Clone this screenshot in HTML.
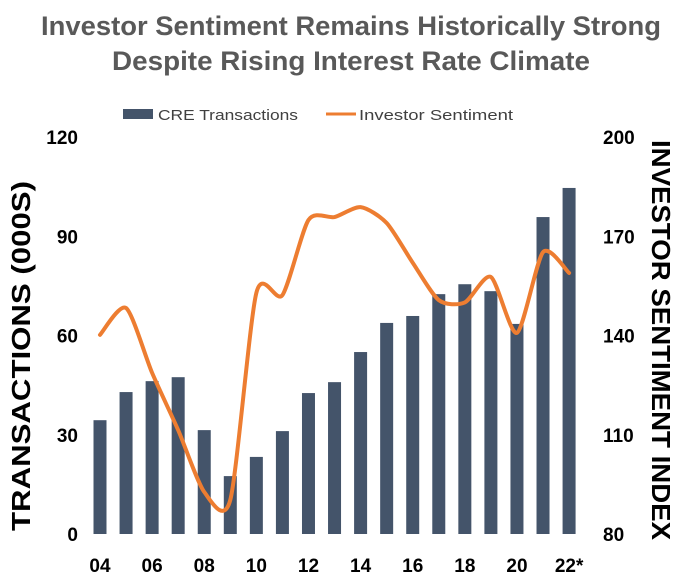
<!DOCTYPE html>
<html><head><meta charset="utf-8">
<style>
body{margin:0;background:#fff;}
svg{display:block;font-family:"Liberation Sans",sans-serif;}
</style></head><body>
<svg id="chart" width="680" height="586" viewBox="0 0 680 586">
<text x="351" y="35" text-anchor="middle" font-size="27" font-weight="bold" fill="#595959" textLength="620" lengthAdjust="spacingAndGlyphs">Investor Sentiment Remains Historically Strong</text>
<text x="351" y="70" text-anchor="middle" font-size="27" font-weight="bold" fill="#595959" textLength="478" lengthAdjust="spacingAndGlyphs">Despite Rising Interest Rate Climate</text>
<g>
<rect x="123" y="109" width="30" height="10" fill="#44546a"/>
<text x="158" y="120" font-size="15" fill="#404040" textLength="140" lengthAdjust="spacingAndGlyphs">CRE Transactions</text>
<line x1="326" y1="114" x2="356" y2="114" stroke="#ed7d31" stroke-width="3"/>
<text x="359" y="120" font-size="15" fill="#404040" textLength="154" lengthAdjust="spacingAndGlyphs">Investor Sentiment</text>
</g>
<text transform="translate(30,356) rotate(-90)" text-anchor="middle" font-size="26" font-weight="bold" fill="#000" textLength="350" lengthAdjust="spacingAndGlyphs">TRANSACTIONS (000S)</text>
<text transform="translate(652,340) rotate(90)" text-anchor="middle" font-size="26" font-weight="bold" fill="#000" textLength="400" lengthAdjust="spacingAndGlyphs">INVESTOR SENTIMENT INDEX</text>
<g id="bars"></g><g id="line"></g><g id="axes"></g>
</svg>
<script>
const years=["04","05","06","07","08","09","10","11","12","13","14","15","16","17","18","19","20","21","22*"];
const transactions=[34.4,42.9,46.2,47.4,31.4,17.5,23.3,31.1,42.6,45.9,55,63.8,65.9,72.5,75.5,73.4,63.5,95.8,104.6];
const sentiment=[140.2,148.3,128.7,111.4,92.7,90.3,152.9,152.2,174.9,175.8,178.8,174,162,150.7,150,157.7,140.8,165.2,158.9];
const leftTicks=[0,30,60,90,120];
const rightTicks=[80,110,140,170,200];
const xLabels=["04","06","08","10","12","14","16","18","20","22*"];
const NS="http://www.w3.org/2000/svg";
const y0=534,yTop=137;
const yL=v=>y0-(v/120)*(y0-yTop);
const yR=v=>y0-((v-80)/120)*(y0-yTop);
const xC=i=>100+i*26.06;
const bars=document.getElementById('bars');
transactions.forEach((v,i)=>{
 const r=document.createElementNS(NS,'rect');
 r.setAttribute('x',xC(i)-6.5);r.setAttribute('width',13);
 r.setAttribute('y',yL(v));r.setAttribute('height',y0-yL(v));
 r.setAttribute('fill','#44546a');
 
 
 bars.appendChild(r);
});
const pts=sentiment.map((v,i)=>[xC(i),yR(v)]);
let d='M'+pts[0][0]+','+pts[0][1];
for(let i=0;i<pts.length-1;i++){
 const p0=pts[Math.max(i-1,0)],p1=pts[i],p2=pts[i+1],p3=pts[Math.min(i+2,pts.length-1)];
 const t=8;
 d+=' C'+(p1[0]+(p2[0]-p0[0])/t)+','+(p1[1]+(p2[1]-p0[1])/t)+' '+(p2[0]-(p3[0]-p1[0])/t)+','+(p2[1]-(p3[1]-p1[1])/t)+' '+p2[0]+','+p2[1];
}
const path=document.createElementNS(NS,'path');
path.setAttribute('d',d);path.setAttribute('fill','none');
path.setAttribute('stroke','#ed7d31');path.setAttribute('stroke-width','4');path.setAttribute('stroke-linecap','round');


document.getElementById('line').appendChild(path);
const axes=document.getElementById('axes');
function txt(x,y,s,anchor,name){
 const t=document.createElementNS(NS,'text');
 t.setAttribute('x',x);t.setAttribute('y',y);t.setAttribute('text-anchor',anchor);
 t.setAttribute('font-size','19');t.setAttribute('font-weight','bold');t.setAttribute('fill','#000');
 t.textContent=s;
 
 
 axes.appendChild(t);
}
leftTicks.forEach(v=>txt(78,yL(v)+7,String(v),'end','left-tick-label'));
rightTicks.forEach(v=>txt(603,yR(v)+7,String(v),'start','right-tick-label'));
xLabels.forEach(s=>{const i=years.indexOf(s);txt(xC(i),572,s,'middle','x-tick-label');});
</script>
</body></html>
